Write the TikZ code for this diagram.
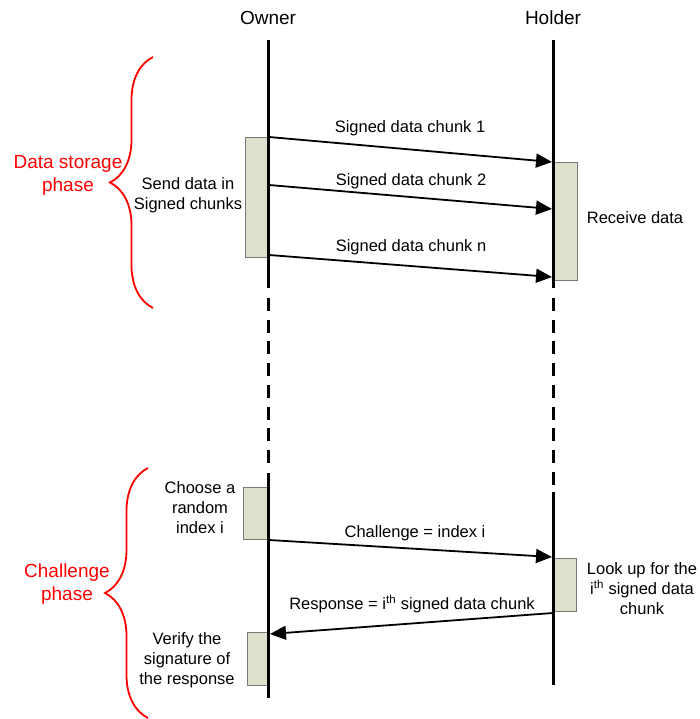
\documentclass[tikz,border=0pt]{standalone}
\usepackage{fontspec}
\setmainfont{Liberation Sans}
\usetikzlibrary{arrows.meta,decorations.pathreplacing}
\definecolor{actfill}{RGB}{221,224,204}
\definecolor{actdraw}{RGB}{120,120,120}
\definecolor{phasered}{RGB}{255,0,0}
\begin{document}
\begin{tikzpicture}[x=1pt,y=-1pt,
  life/.style={line width=3pt},
  lifedash/.style={line width=3pt,dash pattern=on 13pt off 8.7pt},
  act/.style={fill=actfill,draw=actdraw,line width=0.8pt,inner sep=0pt,anchor=north west},
  msg/.style={line width=1.8pt,-{Triangle[length=16pt,width=14pt]}},
  lbl/.style={font=\fontsize{16.5}{20}\selectfont,align=center,inner sep=0pt},
  head/.style={font=\fontsize{19}{22}\selectfont,inner sep=0pt},
  phase/.style={font=\fontsize{19}{23}\selectfont,text=phasered,align=center,inner sep=0pt},
  brc/.style={draw=phasered,line width=1.8pt,decorate,decoration={brace,amplitude=43pt}}
]
\useasboundingbox (0,0) rectangle (699,719);

% headers
\node[head] (owner) at (268,18) {Owner};
\node[head] (holder) at (553,18) {Holder};

% activation boxes
\node[act,minimum width=24pt,minimum height=120pt] (sendbox) at (245,137) {};
\node[act,minimum width=24pt,minimum height=118pt] (recvbox) at (553,162) {};
\node[act,minimum width=25pt,minimum height=52pt] (choosebox) at (243,487) {};
\node[act,minimum width=23pt,minimum height=53pt] (lookbox) at (553,558) {};
\node[act,minimum width=21pt,minimum height=53pt] (verifybox) at (247,632) {};

% lifeline coordinates
\coordinate (oA) at (268.5,40);
\coordinate (oB) at (268.5,288);
\coordinate (oC) at (268.5,298);
\coordinate (oD) at (268.5,468);
\coordinate (oE) at (268.5,473);
\coordinate (oF) at (268.5,698);
\coordinate (hA) at (553.5,40);
\coordinate (hB) at (553.5,288);
\coordinate (hC) at (553.5,298);
\coordinate (hD) at (553.5,485);
\coordinate (hE) at (553.5,492);
\coordinate (hF) at (553.5,685);

\draw[life] (oA) -- (oB);
\draw[lifedash] (oC) -- (oD);
\draw[life] (oE) -- (oF);
\draw[life] (hA) -- (hB);
\draw[lifedash] (hC) -- (hD);
\draw[life] (hE) -- (hF);

% message end points
\coordinate (m1s) at (269,137);
\coordinate (m1e) at (552,162);
\coordinate (m2s) at (269,185);
\coordinate (m2e) at (552,209);
\coordinate (m3s) at (269,255);
\coordinate (m3e) at (552,277);
\coordinate (m4s) at (269,540);
\coordinate (m4e) at (552,557);
\coordinate (m5s) at (553,613);
\coordinate (m5e) at (270,634);

\draw[msg] (m1s) -- (m1e);
\draw[msg] (m2s) -- (m2e);
\draw[msg] (m3s) -- (m3e);
\draw[msg] (m4s) -- (m4e);
\draw[msg] (m5s) -- (m5e);

% message labels
\node[lbl] (l1) at (410,128) {Signed data chunk 1};
\node[lbl] (l2) at (411,181) {Signed data chunk 2};
\node[lbl] (l3) at (411,247) {Signed data chunk n};
\node[lbl] (l4) at (415,533) {Challenge = index i};
\node[lbl] (l5) at (412,604) {Response = i\textsuperscript{th} signed data chunk};

% activity labels
\node[lbl] (send) at (188,195) {Send data in\\Signed chunks};
\node[lbl] (recv) at (635,218) {Receive data};
\node[lbl] (choose) at (200,508) {Choose a\\random\\index i};
\node[lbl] (look) at (642,589) {Look up for the\\i\textsuperscript{th} signed data\\chunk};
\node[lbl] (verify) at (187,660) {Verify the\\signature of\\the response};

% phases
\coordinate (b1s) at (153,308);
\coordinate (b1e) at (153,57);
\coordinate (b2s) at (148,718);
\coordinate (b2e) at (148,468);
\draw[brc] (b1s) -- (b1e);
\draw[brc] (b2s) -- (b2e);
\node[phase] (ph1) at (68,175) {Data storage\\phase};
\node[phase] (ph2) at (67,584) {Challenge\\phase};
\end{tikzpicture}
\end{document}
